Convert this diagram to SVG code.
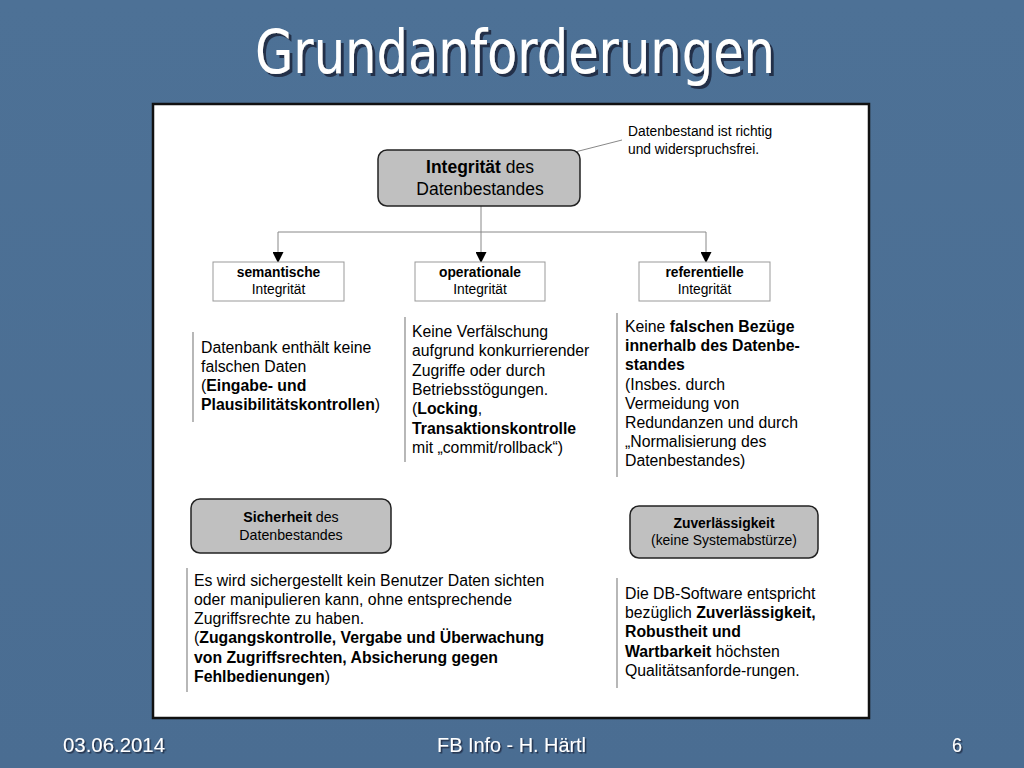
<svg xmlns="http://www.w3.org/2000/svg" width="1024" height="768" viewBox="0 0 1024 768">
<style>
.t{font-family:"Liberation Sans",Arial,sans-serif;fill:#000}
.b{font-weight:bold}
.node{fill:#c0c0c0;stroke:#222;stroke-width:1.5}
.box{fill:#fff;stroke:#999;stroke-width:1}
.bar{stroke:#888;stroke-width:1.2}
.con{stroke:#888;stroke-width:1;fill:none}
.hd{font-family:"DejaVu Sans Condensed","DejaVu Sans",sans-serif;fill:#fff;filter:url(#shadow)}
.ft{font-family:"Liberation Sans",Arial,sans-serif;fill:#fff;font-size:21px;filter:url(#shadow2)}
</style>
<defs>
<marker id="arr" markerWidth="11" markerHeight="11" refX="10" refY="5.5" orient="auto" markerUnits="userSpaceOnUse">
<path d="M0,0 L11,5.5 L0,11 Z" fill="#000"/>
</marker>
<linearGradient id="bg" x1="0" y1="0" x2="0" y2="1">
<stop offset="0" stop-color="#4d7196"/>
<stop offset="1" stop-color="#4a6d92"/>
</linearGradient>
<filter id="shadow" x="-5%" y="-20%" width="110%" height="150%">
<feDropShadow dx="3" dy="3" stdDeviation="0.6" flood-color="#1c2c40" flood-opacity="0.9"/>
</filter>
<filter id="shadow2" x="-5%" y="-20%" width="110%" height="150%">
<feDropShadow dx="1.5" dy="1.5" stdDeviation="0.4" flood-color="#1c2c40" flood-opacity="0.9"/>
</filter>
</defs>
<rect width="1024" height="768" fill="url(#bg)"/>
<text class="hd" x="255" y="73" font-size="60" textLength="520" lengthAdjust="spacingAndGlyphs">Grundanforderungen</text>
<rect x="153" y="104" width="716" height="614" fill="#fff" stroke="#111" stroke-width="2.5"/>

<g id="connectors">
<line class="con" x1="575" y1="152" x2="622" y2="140"/>
<line class="con" x1="481" y1="206" x2="481" y2="232"/>
<line class="con" x1="278" y1="232" x2="706" y2="232"/>
<line class="con" x1="278" y1="232" x2="278" y2="262" marker-end="url(#arr)"/>
<line class="con" x1="481" y1="232" x2="481" y2="262" marker-end="url(#arr)"/>
<line class="con" x1="706" y1="232" x2="706" y2="262" marker-end="url(#arr)"/>
</g>

<g id="note-integritaet">
<text class="t" font-size="13.8"><tspan x="628" y="136">Datenbestand ist richtig</tspan><tspan x="628" y="154">und widerspruchsfrei.</tspan></text>
</g>

<g id="integritaet">
<rect class="node" x="378" y="150" width="202" height="56" rx="9"/>
<text class="t" font-size="17.5" text-anchor="middle"><tspan x="480" y="173"><tspan class="b">Integrität</tspan> des</tspan><tspan x="480" y="195">Datenbestandes</tspan></text>
</g>

<g id="semantische">
<rect class="box" x="213" y="262" width="131" height="39"/>
<text class="t" font-size="13.8" text-anchor="middle"><tspan class="b" x="278.5" y="277">semantische</tspan><tspan x="278.5" y="294">Integrität</tspan></text>
</g>
<g id="operationale">
<rect class="box" x="415" y="262" width="130" height="39"/>
<text class="t" font-size="13.8" text-anchor="middle"><tspan class="b" x="480" y="277">operationale</tspan><tspan x="480" y="294">Integrität</tspan></text>
</g>
<g id="referentielle">
<rect class="box" x="639" y="262" width="131" height="39"/>
<text class="t" font-size="13.8" text-anchor="middle"><tspan class="b" x="704.5" y="277">referentielle</tspan><tspan x="704.5" y="294">Integrität</tspan></text>
</g>

<g id="text-semantisch">
<line class="bar" x1="193" y1="332" x2="193" y2="422"/>
<text class="t" font-size="15.8"><tspan x="201" y="353">Datenbank enthält keine</tspan><tspan x="201" y="372">falschen Daten</tspan><tspan x="201" y="391">(<tspan class="b">Eingabe- und</tspan></tspan><tspan x="201" y="410"><tspan class="b">Plausibilitätskontrollen</tspan>)</tspan></text>
</g>

<g id="text-operational">
<line class="bar" x1="405" y1="317" x2="405" y2="462"/>
<text class="t" font-size="15.8"><tspan x="412" y="337">Keine Verfälschung</tspan><tspan x="412" y="356">aufgrund konkurrierender</tspan><tspan x="412" y="376">Zugriffe oder durch</tspan><tspan x="412" y="395">Betriebsstögungen.</tspan><tspan x="412" y="414">(<tspan class="b">Locking</tspan>,</tspan><tspan x="412" y="434" class="b">Transaktionskontrolle</tspan><tspan x="412" y="453">mit „commit/rollback“)</tspan></text>
</g>

<g id="text-referentiell">
<line class="bar" x1="617" y1="313" x2="617" y2="477"/>
<text class="t" font-size="15.8"><tspan x="625" y="332">Keine <tspan class="b">falschen Bezüge</tspan></tspan><tspan x="625" y="351" class="b">innerhalb des Datenbe-</tspan><tspan x="625" y="370" class="b">standes</tspan><tspan x="625" y="390">(Insbes. durch</tspan><tspan x="625" y="409">Vermeidung von</tspan><tspan x="625" y="428">Redundanzen und durch</tspan><tspan x="625" y="447">„Normalisierung des</tspan><tspan x="625" y="466">Datenbestandes)</tspan></text>
</g>

<g id="sicherheit">
<rect class="node" x="191" y="499" width="200" height="54" rx="9"/>
<text class="t" font-size="14.2" text-anchor="middle"><tspan x="291" y="522"><tspan class="b">Sicherheit</tspan> des</tspan><tspan x="291" y="540">Datenbestandes</tspan></text>
</g>

<g id="text-sicherheit">
<line class="bar" x1="187" y1="568" x2="187" y2="692"/>
<text class="t" font-size="15.8"><tspan x="194" y="586">Es wird sichergestellt kein Benutzer Daten sichten</tspan><tspan x="194" y="605">oder manipulieren kann, ohne entsprechende</tspan><tspan x="194" y="624">Zugriffsrechte zu haben.</tspan><tspan x="194" y="643">(<tspan class="b">Zugangskontrolle, Vergabe und Überwachung</tspan></tspan><tspan x="194" y="663" class="b">von Zugriffsrechten, Absicherung gegen</tspan><tspan x="194" y="682"><tspan class="b">Fehlbedienungen</tspan>)</tspan></text>
</g>

<g id="zuverlaessigkeit">
<rect class="node" x="630" y="506" width="188" height="52" rx="9"/>
<text class="t" font-size="13.9" text-anchor="middle"><tspan class="b" x="724" y="528">Zuverlässigkeit</tspan><tspan x="724" y="545">(keine Systemabstürze)</tspan></text>
</g>

<g id="text-zuverlaessigkeit">
<line class="bar" x1="617" y1="578" x2="617" y2="688"/>
<text class="t" font-size="15.8"><tspan x="625" y="599">Die DB-Software entspricht</tspan><tspan x="625" y="618">bezüglich <tspan class="b">Zuverlässigkeit,</tspan></tspan><tspan x="625" y="637" class="b">Robustheit und</tspan><tspan x="625" y="657"><tspan class="b">Wartbarkeit</tspan> höchsten</tspan><tspan x="625" y="676">Qualitätsanforde-rungen.</tspan></text>
</g>

<g id="footer">
<text class="ft" x="63" y="752" textLength="102" lengthAdjust="spacingAndGlyphs">03.06.2014</text>
<text class="ft" x="437" y="752" textLength="149" lengthAdjust="spacingAndGlyphs">FB Info - H. Härtl</text>
<text class="ft" x="952" y="752" textLength="10" lengthAdjust="spacingAndGlyphs">6</text>
</g>
</svg>
